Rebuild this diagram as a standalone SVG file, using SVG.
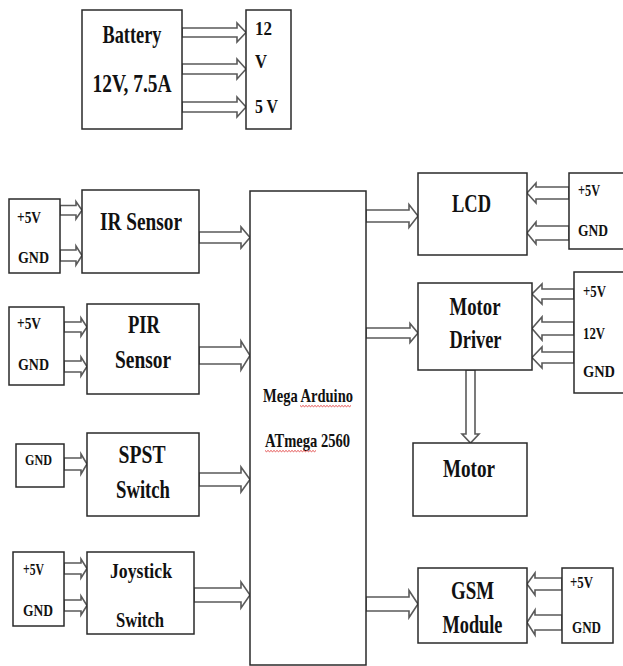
<svg xmlns="http://www.w3.org/2000/svg" width="623" height="666" viewBox="0 0 623 666">
<style>
.box{fill:#fff;stroke:#2a2a2a;stroke-width:1.5}
.arr{fill:#fff;stroke:#5a5a5a;stroke-width:1.6;stroke-linejoin:miter}
text{font-family:"Liberation Serif","Times New Roman",serif;font-weight:bold;fill:#111}
.big{font-size:25px;text-anchor:middle}
.mid{font-size:20px;text-anchor:middle}
.pw{font-size:17px}
.sp{fill:none;stroke:#e03a3a;stroke-width:0.9}
</style>
<rect width="623" height="666" fill="#fff"/>

<g id="connectors">
  <path class="arr" d="M182,28 H237 V23 L246,32.5 L237,42 V37 H182 Z"/>
  <path class="arr" d="M182,64 H237 V59 L246,69 L237,79 V74 H182 Z"/>
  <path class="arr" d="M182,102 H237 V97 L246,107 L237,117 V112 H182 Z"/>

  <path class="arr" d="M60,205.5 H76 V201.5 L82,210.25 L76,219 V215 H60 Z"/>
  <path class="arr" d="M60,250 H76 V246 L82,255.5 L76,265 V261 H60 Z"/>
  <path class="arr" d="M199,232 H241 V227 L250,237.5 L241,248 V243 H199 Z"/>

  <path class="arr" d="M64,322 H81 V318 L87,327 L81,336 V332 H64 Z"/>
  <path class="arr" d="M64,361 H81 V357 L87,366.5 L81,376 V372 H64 Z"/>
  <path class="arr" d="M199,347 H241 V341 L250,355.5 L241,370 V364 H199 Z"/>

  <path class="arr" d="M64,458 H81 V454 L87,464 L81,474 V470 H64 Z"/>
  <path class="arr" d="M199,473 H241 V467 L250,479.5 L241,492 V486 H199 Z"/>

  <path class="arr" d="M64,563 H81 V559 L87,568.5 L81,578 V574 H64 Z"/>
  <path class="arr" d="M64,600 H81 V596 L87,605.5 L81,615 V611 H64 Z"/>
  <path class="arr" d="M194,588 H241 V582 L250,595 L241,608 V602 H194 Z"/>

  <path class="arr" d="M366,210 H409 V204.5 L418,216 L409,227.5 V222 H366 Z"/>
  <path class="arr" d="M569,187 H536 V183 L527,193 L536,203 V199 H569 Z"/>
  <path class="arr" d="M569,226 H536 V222 L527,233 L536,244 V240 H569 Z"/>

  <path class="arr" d="M366,328 H410 V323.5 L418,333 L410,342.5 V338 H366 Z"/>
  <path class="arr" d="M574,289 H542 V284 L532,294 L542,304 V299 H574 Z"/>
  <path class="arr" d="M574,322 H542 V317 L532,328.5 L542,340 V335 H574 Z"/>
  <path class="arr" d="M574,352 H542 V347 L532,357.5 L542,368 V363 H574 Z"/>

  <path class="arr" d="M466,370 V434 H462 L470.5,443 L479,434 H475 V370 Z"/>

  <path class="arr" d="M366,597 H409 V590.5 L418,604 L409,617.5 V611 H366 Z"/>
  <path class="arr" d="M562,578 H535 V573 L527,584 L535,595 V590 H562 Z"/>
  <path class="arr" d="M562,615 H535 V610 L527,622.5 L535,635 V630 H562 Z"/>
</g>

<g id="battery">
  <rect class="box" x="82" y="10" width="100" height="119"/>
  <text class="big" x="132" y="43" textLength="59" lengthAdjust="spacingAndGlyphs">Battery</text>
  <text class="big" x="132" y="92" textLength="79" lengthAdjust="spacingAndGlyphs">12V, 7.5A</text>
</g>
<g id="battery-out">
  <rect class="box" x="246" y="10" width="45" height="119"/>
  <text x="255" y="35" font-size="18" textLength="17" lengthAdjust="spacingAndGlyphs">12</text>
  <text x="255" y="68" font-size="18" textLength="12" lengthAdjust="spacingAndGlyphs">V</text>
  <text x="255" y="113" font-size="18" textLength="23" lengthAdjust="spacingAndGlyphs">5 V</text>
</g>

<g id="ir-power">
  <rect class="box" x="9" y="199" width="51" height="74"/>
  <text class="pw" x="17" y="223" textLength="24" lengthAdjust="spacingAndGlyphs">+5V</text>
  <text class="pw" x="18" y="263" textLength="31" lengthAdjust="spacingAndGlyphs">GND</text>
</g>
<g id="ir-sensor">
  <rect class="box" x="82" y="190" width="117" height="83"/>
  <text class="big" x="141" y="230" textLength="82" lengthAdjust="spacingAndGlyphs">IR Sensor</text>
</g>

<g id="pir-power">
  <rect class="box" x="9" y="307" width="55" height="78"/>
  <text class="pw" x="17" y="329" textLength="24" lengthAdjust="spacingAndGlyphs">+5V</text>
  <text class="pw" x="18" y="370" textLength="31" lengthAdjust="spacingAndGlyphs">GND</text>
</g>
<g id="pir-sensor">
  <rect class="box" x="87" y="304" width="112" height="90"/>
  <text class="big" x="144" y="333" textLength="32" lengthAdjust="spacingAndGlyphs">PIR</text>
  <text class="big" x="143" y="368" textLength="56" lengthAdjust="spacingAndGlyphs">Sensor</text>
</g>

<g id="spst-power">
  <rect class="box" x="16" y="444" width="48" height="43"/>
  <text x="25" y="465" font-size="14" textLength="27" lengthAdjust="spacingAndGlyphs">GND</text>
</g>
<g id="spst-switch">
  <rect class="box" x="87" y="433" width="112" height="83"/>
  <text class="big" x="142" y="463" textLength="47" lengthAdjust="spacingAndGlyphs">SPST</text>
  <text class="big" x="143" y="498" textLength="54" lengthAdjust="spacingAndGlyphs">Switch</text>
</g>

<g id="joystick-power">
  <rect class="box" x="13" y="552" width="51" height="74"/>
  <text class="pw" x="23" y="575" textLength="21" lengthAdjust="spacingAndGlyphs">+5V</text>
  <text class="pw" x="23" y="616" textLength="30" lengthAdjust="spacingAndGlyphs">GND</text>
</g>
<g id="joystick-switch">
  <rect class="box" x="87" y="552" width="107" height="82"/>
  <text class="mid" x="141" y="578" textLength="62" lengthAdjust="spacingAndGlyphs">Joystick</text>
  <text class="mid" x="140" y="627" textLength="48" lengthAdjust="spacingAndGlyphs">Switch</text>
</g>

<g id="mega">
  <rect class="box" x="250" y="191" width="116" height="474"/>
  <text x="308" y="401.5" font-size="19" text-anchor="middle" textLength="90" lengthAdjust="spacingAndGlyphs">Mega Arduino</text>
  <text x="307.5" y="446.5" font-size="19" text-anchor="middle" textLength="85" lengthAdjust="spacingAndGlyphs">ATmega 2560</text>
  <path class="sp" d="M300,405.5 l1.5,1.2 l1.5,-1.2 l1.5,1.2 l1.5,-1.2 l1.5,1.2 l1.5,-1.2 l1.5,1.2 l1.5,-1.2 l1.5,1.2 l1.5,-1.2 l1.5,1.2 l1.5,-1.2 l1.5,1.2 l1.5,-1.2 l1.5,1.2 l1.5,-1.2 l1.5,1.2 l1.5,-1.2 l1.5,1.2 l1.5,-1.2 l1.5,1.2 l1.5,-1.2 l1.5,1.2 l1.5,-1.2 l1.5,1.2 l1.5,-1.2 l1.5,1.2 l1.5,-1.2 l1.5,1.2 l1.5,-1.2 l1.5,1.2 l1.5,-1.2 l1.5,1.2 l1.5,-1.2"/>
  <path class="sp" d="M265,450.5 l1.5,1.2 l1.5,-1.2 l1.5,1.2 l1.5,-1.2 l1.5,1.2 l1.5,-1.2 l1.5,1.2 l1.5,-1.2 l1.5,1.2 l1.5,-1.2 l1.5,1.2 l1.5,-1.2 l1.5,1.2 l1.5,-1.2 l1.5,1.2 l1.5,-1.2 l1.5,1.2 l1.5,-1.2 l1.5,1.2 l1.5,-1.2 l1.5,1.2 l1.5,-1.2 l1.5,1.2 l1.5,-1.2 l1.5,1.2 l1.5,-1.2 l1.5,1.2 l1.5,-1.2 l1.5,1.2 l1.5,-1.2 l1.5,1.2 l1.5,-1.2 l1.5,1.2 l1.5,-1.2"/>
</g>

<g id="lcd">
  <rect class="box" x="418" y="173" width="109" height="82"/>
  <text class="big" x="471.5" y="211.5" textLength="39" lengthAdjust="spacingAndGlyphs">LCD</text>
</g>
<g id="lcd-power">
  <rect class="box" x="569" y="173" width="60" height="76"/>
  <text class="pw" x="578" y="196" textLength="22" lengthAdjust="spacingAndGlyphs">+5V</text>
  <text class="pw" x="578" y="236" textLength="30" lengthAdjust="spacingAndGlyphs">GND</text>
</g>

<g id="motor-driver">
  <rect class="box" x="418" y="283" width="114" height="87"/>
  <text class="big" x="475" y="315" textLength="51" lengthAdjust="spacingAndGlyphs">Motor</text>
  <text class="big" x="475.5" y="348" textLength="52" lengthAdjust="spacingAndGlyphs">Driver</text>
</g>
<g id="motor-driver-power">
  <rect class="box" x="574" y="272" width="60" height="121"/>
  <text class="pw" x="583" y="297" textLength="23" lengthAdjust="spacingAndGlyphs">+5V</text>
  <text class="pw" x="583" y="339" textLength="22" lengthAdjust="spacingAndGlyphs">12V</text>
  <text class="pw" x="583" y="377" textLength="32" lengthAdjust="spacingAndGlyphs">GND</text>
</g>

<g id="motor">
  <rect class="box" x="413" y="443" width="114" height="73"/>
  <text class="big" x="469" y="477" textLength="52" lengthAdjust="spacingAndGlyphs">Motor</text>
</g>

<g id="gsm">
  <rect class="box" x="418" y="568" width="109" height="75"/>
  <text class="big" x="472.5" y="599" textLength="43" lengthAdjust="spacingAndGlyphs">GSM</text>
  <text class="big" x="472.5" y="633" textLength="60" lengthAdjust="spacingAndGlyphs">Module</text>
</g>
<g id="gsm-power">
  <rect class="box" x="562" y="568" width="51" height="75"/>
  <text class="pw" x="570" y="588" textLength="23" lengthAdjust="spacingAndGlyphs">+5V</text>
  <text class="pw" x="572" y="633" textLength="29" lengthAdjust="spacingAndGlyphs">GND</text>
</g>
</svg>
